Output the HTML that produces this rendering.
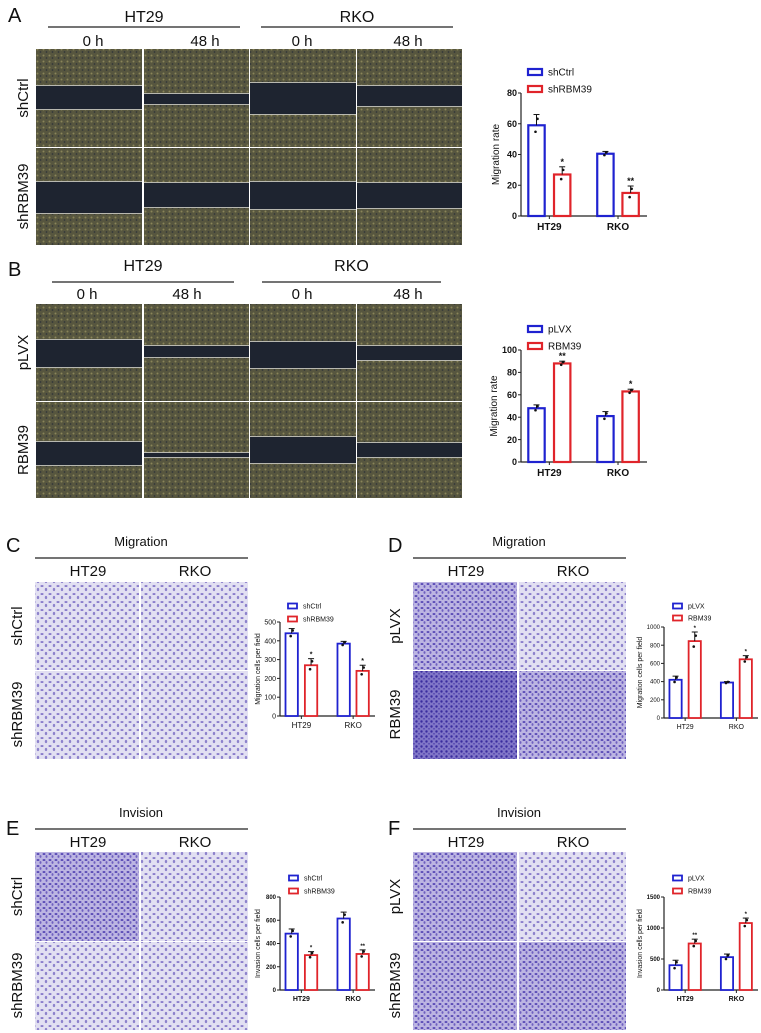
<!DOCTYPE html>
<html><head><meta charset="utf-8"><style>
body{margin:0;background:#fff;width:761px;height:1033px;overflow:hidden}
svg{display:block;font-family:"Liberation Sans",Arial,sans-serif}
</style></head><body>
<svg id="fig" width="761" height="1033" viewBox="0 0 761 1033">
<defs>
<pattern id="cellsA" width="6" height="6" patternUnits="userSpaceOnUse"><rect width="6" height="6" fill="#57563f"/><circle cx="1.5" cy="1.5" r="1" fill="#8a8458"/><circle cx="4.5" cy="4" r="0.9" fill="#323638"/></pattern>
<pattern id="cellsL" width="8" height="8" patternUnits="userSpaceOnUse"><rect width="8" height="8" fill="#e2e0f2"/><ellipse cx="2" cy="2" rx="1.6" ry="0.9" fill="#7a6cc4"/><ellipse cx="6" cy="5.5" rx="1.2" ry="1.6" fill="#8d82cc"/></pattern>
<pattern id="cellsM" width="6" height="6" patternUnits="userSpaceOnUse"><rect width="6" height="6" fill="#bcb5e2"/><ellipse cx="2" cy="2" rx="1.5" ry="1" fill="#5b4cb6"/><ellipse cx="4.5" cy="4.5" rx="1" ry="1.4" fill="#6e60c0"/></pattern>
<pattern id="cellsD" width="5" height="5" patternUnits="userSpaceOnUse"><rect width="5" height="5" fill="#8177c8"/><circle cx="1.5" cy="1.5" r="1.2" fill="#3a2c9e"/><circle cx="4" cy="3.8" r="0.8" fill="#4b3daa"/></pattern>
</defs>
<g id="static"></g>
<g id="charts"></g>
</svg>
<script>
const NS='http://www.w3.org/2000/svg';
const root=document.getElementById('static');
function mk(tag,attrs,parent,text){const e=document.createElementNS(NS,tag);for(const k in attrs)e.setAttribute(k,attrs[k]);if(text!==undefined)e.textContent=text;(parent||root).appendChild(e);return e;}
function txt(x,y,s,size,name,extra){const t=mk('text',Object.assign({x:x,y:y,'font-size':size,'text-anchor':'middle',fill:'#111'},extra||{}),root,s);

return t;}
function line(x1,y1,x2,y2,name,w){const l=mk('line',{x1:x1,y1:y1,x2:x2,y2:y2,stroke:'#222','stroke-width':w||1.3});

}
function img(x,y,w,h,fill,name){const r=mk('rect',{x:x,y:y,width:w,height:h,fill:fill});

return r;}

[['A',8,22],['B',8,276],['C',6,552],['D',388,552],['E',6,835],['F',388,835]].forEach(p=>{txt(p[1],p[2],p[0],20,'panel-label-'+p[0].toLowerCase(),{'text-anchor':'start'});});

function wound(top,bottom,split,bands,rowLabels,hdrY,lineY,timeY,timeX,lines,prefix){
  const cols=[36,144,250,357],cw=[106,105,106,105];
  txt((lines[0]+lines[1])/2,hdrY,'HT29',16,prefix+'-ht29-header');txt((lines[2]+lines[3])/2,hdrY,'RKO',16,prefix+'-rko-header');
  line(lines[0],lineY,lines[1],lineY,prefix+'-ht29-line');line(lines[2],lineY,lines[3],lineY,prefix+'-rko-line');
  ['0 h','48 h','0 h','48 h'].forEach((s,i)=>txt(timeX[i],timeY,s,15,prefix+'-time-'+i));
  for(let r=0;r<2;r++){
    const y=r?split+1:top,h=r?bottom-split-1:split-top;
    for(let c=0;c<4;c++){
      img(cols[c],y,cw[c],h,'url(#cellsA)',prefix+'-image-r'+r+'c'+c);
      const b=bands[r][c];img(cols[c],b[0],cw[c],b[1]-b[0],'#1e2430',prefix+'-wound-r'+r+'c'+c);
      img(cols[c],b[0]-1,cw[c],1,'#b8b8b0',prefix+'-edge');img(cols[c],b[1],cw[c],1,'#b8b8b0',prefix+'-edge');
    }
    txt(0,0,rowLabels[r],15,prefix+'-row-label-'+r,{transform:'translate(28,'+(y+h/2)+') rotate(-90)'});
  }
}
wound(49,245,147,[[[86,109],[94,104],[83,114],[86,106]],[[182,213],[183,207],[182,209],[183,208]]],['shCtrl','shRBM39'],22,27,46,[93,205,302,408],[48,240,261,453],'a');
wound(304,498,401,[[[340,367],[346,357],[342,368],[346,360]],[[442,465],[453,457],[437,463],[443,457]]],['pLVX','RBM39'],271,282,299,[87,187,302,408],[52,234,262,441],'b');

function transwell(x0,title,titleY,imgTop,split,bottom,fills,rowLabels,prefix){
  txt(x0+106,titleY,title,13,prefix+'-title');line(x0,titleY+12,x0+213,titleY+12,prefix+'-title-line');
  txt(x0+53,titleY+30,'HT29',15,prefix+'-ht29-header');txt(x0+160,titleY+30,'RKO',15,prefix+'-rko-header');
  const mid=x0+105;
  img(x0,imgTop,104,split-imgTop,fills[0],prefix+'-image-r0c0');img(mid+1,imgTop,107,split-imgTop,fills[1],prefix+'-image-r0c1');
  img(x0,split+1,104,bottom-split-1,fills[2],prefix+'-image-r1c0');img(mid+1,split+1,107,bottom-split-1,fills[3],prefix+'-image-r1c1');
  txt(0,0,rowLabels[0],15,prefix+'-row-label-0',{transform:'translate('+(x0-13)+','+((imgTop+split)/2)+') rotate(-90)'});
  txt(0,0,rowLabels[1],15,prefix+'-row-label-1',{transform:'translate('+(x0-13)+','+((split+bottom)/2)+') rotate(-90)'});
}
transwell(35,'Migration',546,582,670,759,['url(#cellsL)','url(#cellsL)','url(#cellsL)','url(#cellsL)'],['shCtrl','shRBM39'],'c');
transwell(413,'Migration',546,582,670,759,['url(#cellsM)','url(#cellsL)','url(#cellsD)','url(#cellsM)'],['pLVX','RBM39'],'d');
transwell(35,'Invision',817,852,941,1030,['url(#cellsM)','url(#cellsL)','url(#cellsL)','url(#cellsL)'],['shCtrl','shRBM39'],'e');
transwell(413,'Invision',817,852,941,1030,['url(#cellsM)','url(#cellsL)','url(#cellsM)','url(#cellsM)'],['pLVX','shRBM39'],'f');
</script>
<script>
const groups=['HT29','RKO'];
const aCtrl=[59,40.5],aTreat=[27,15],aErrC=[7,1.5],aErrT=[5,4.5];
const bCtrl=[48,41],bTreat=[88,63],bErrC=[3,4],bErrT=[2,2];
const cCtrl=[440,385],cTreat=[270,240],cErrC=[25,12],cErrT=[35,30];
const dCtrl=[420,390],dTreat=[845,645],dErrC=[40,10],dErrT=[100,40];
const eCtrl=[485,615],eTreat=[300,310],eErrC=[40,55],eErrT=[30,35];
const fCtrl=[400,530],fTreat=[750,1080],fErrC=[80,50],fErrT=[70,80];
const aTicks=[0,20,40,60,80],bTicks=[0,20,40,60,80,100],cTicks=[0,100,200,300,400,500];
const dTicks=[0,200,400,600,800,1000],eTicks=[0,200,400,600,800],fTicks=[0,500,1000,1500];
const aStars=['*','**'],bStars=['**','*'],cStars=['*','*'],dStars=['*','*'],eStars=['*','**'],fStars=['**','*'];

const CH=document.getElementById('charts');
function el(tag,attrs,text){const e=document.createElementNS(NS,tag);for(const k in attrs)e.setAttribute(k,attrs[k]);if(text!==undefined)e.textContent=text;return e;}

function chart(o){
  const g=el('g',{});
  
  
  CH.appendChild(g);
  const max=o.ticks[o.ticks.length-1];
  const yS=v=>o.y0-(v/max)*(o.y0-o.yTop);
  const W=o.w, xS=f=>o.x0+f*W;
  const fs=o.fs, bold=o.bold?'bold':'normal';
  const ya=el('line',{x1:o.x0,y1:o.yTop,x2:o.x0,y2:o.y0,stroke:'#222','stroke-width':1.2});
  g.appendChild(ya);
  const xa=el('line',{x1:o.x0,y1:o.y0,x2:o.x0+W,y2:o.y0,stroke:'#222','stroke-width':1.2});
  g.appendChild(xa);
  o.ticks.forEach(t=>{
    const y=yS(t);
    g.appendChild(el('line',{x1:o.x0-3,y1:y,x2:o.x0,y2:y,stroke:'#222','stroke-width':1}));
    const tl=el('text',{x:o.x0-4,y:y+fs*0.35,'font-size':fs,'text-anchor':'end','font-weight':bold,fill:'#111'},String(t));
    
    
    g.appendChild(tl);
  });
  const yt=el('text',{transform:'translate('+(o.x0-o.titleOff)+','+((o.y0+o.yTop)/2)+') rotate(-90)','font-size':o.tfs,'text-anchor':'middle',fill:'#111'},o.ytitle);
  g.appendChild(yt);
  const bw=0.13*W;
  const offs=[[0.058,0.262],[0.605,0.805]];
  groups.forEach((gname,i)=>{
    const pair=[[o.ctrl[i],o.errC[i],'#1f22d0'],[o.treat[i],o.errT[i],'#e0242a']];
    pair.forEach((p,j)=>{
      const x=xS(offs[i][j]),y=yS(p[0]);
      const r=el('rect',{x:x,y:y,width:bw,height:o.y0-y,fill:'#fff',stroke:p[2],'stroke-width':o.sw});
      
      
      g.appendChild(r);
      const cx=x+bw/2,ye=yS(p[0]+p[1]);
      g.appendChild(el('line',{x1:cx,y1:y,x2:cx,y2:ye,stroke:'#111','stroke-width':1}));
      g.appendChild(el('line',{x1:cx-3,y1:ye,x2:cx+3,y2:ye,stroke:'#111','stroke-width':1}));
      g.appendChild(el('circle',{cx:cx-1,cy:yS(p[0]-p[1]*0.6),r:1.3,fill:'#111'}));
      g.appendChild(el('circle',{cx:cx+1,cy:yS(p[0]+p[1]*0.6),r:1.3,fill:'#111'}));
      if(j===1){const s=el('text',{x:cx,y:ye-2,'font-size':fs,'text-anchor':'middle',fill:'#111','font-weight':'bold'},o.stars[i]);
        g.appendChild(s);}
    });
    const gx=xS((offs[i][0]+offs[i][1])/2+bw/W/2);
    g.appendChild(el('line',{x1:gx,y1:o.y0,x2:gx,y2:o.y0+3,stroke:'#222','stroke-width':1}));
    const xl=el('text',{x:gx,y:o.y0+fs+5,'font-size':fs+1,'text-anchor':'middle','font-weight':bold,fill:'#111'},gname);
    g.appendChild(xl);
  });
  o.legend.forEach((L,k)=>{
    const ly=o.legY+k*o.legGap;
    const lr=el('rect',{x:o.legX,y:ly-o.lh/2,width:o.lw,height:o.lh,fill:'#fff',stroke:k?'#e0242a':'#1f22d0','stroke-width':o.sw});
    g.appendChild(lr);
    const lt=el('text',{x:o.legX+o.lw+6,y:ly+o.lfs*0.35,'font-size':o.lfs,fill:'#111'},L);
    g.appendChild(lt);
  });
}
chart({id:'a',x0:521,w:126,y0:216,yTop:93,ticks:aTicks,ctrl:aCtrl,treat:aTreat,errC:aErrC,errT:aErrT,stars:aStars,fs:9,bold:true,tfs:10,titleOff:22,ytitle:'Migration rate',sw:2.2,legend:['shCtrl','shRBM39'],legX:528,legY:72,legGap:17,lw:14,lh:6,lfs:10});
chart({id:'b',x0:521,w:126,y0:462,yTop:350,ticks:bTicks,ctrl:bCtrl,treat:bTreat,errC:bErrC,errT:bErrT,stars:bStars,fs:9,bold:true,tfs:10,titleOff:24,ytitle:'Migration rate',sw:2.2,legend:['pLVX','RBM39'],legX:528,legY:329,legGap:17,lw:14,lh:6,lfs:10});
chart({id:'c',x0:280,w:95,y0:716,yTop:622,ticks:cTicks,ctrl:cCtrl,treat:cTreat,errC:cErrC,errT:cErrT,stars:cStars,fs:7,bold:false,tfs:7,titleOff:20,ytitle:'Migration cells per field',sw:1.8,legend:['shCtrl','shRBM39'],legX:288,legY:606,legGap:13,lw:9,lh:5,lfs:7});
chart({id:'d',x0:664,w:94,y0:718,yTop:627,ticks:dTicks,ctrl:dCtrl,treat:dTreat,errC:dErrC,errT:dErrT,stars:dStars,fs:6,bold:false,tfs:7,titleOff:22,ytitle:'Migration cells per field',sw:1.8,legend:['pLVX','RBM39'],legX:673,legY:606,legGap:12,lw:9,lh:5,lfs:7});
chart({id:'e',x0:280,w:95,y0:990,yTop:897,ticks:eTicks,ctrl:eCtrl,treat:eTreat,errC:eErrC,errT:eErrT,stars:eStars,fs:6,bold:true,tfs:7,titleOff:20,ytitle:'Invasion cells per field',sw:1.8,legend:['shCtrl','shRBM39'],legX:289,legY:878,legGap:13,lw:9,lh:5,lfs:7});
chart({id:'f',x0:664,w:94,y0:990,yTop:897,ticks:fTicks,ctrl:fCtrl,treat:fTreat,errC:fErrC,errT:fErrT,stars:fStars,fs:6,bold:true,tfs:7,titleOff:22,ytitle:'Invasion cells per field',sw:1.8,legend:['pLVX','RBM39'],legX:673,legY:878,legGap:13,lw:9,lh:5,lfs:7});
</script>
</body></html>
